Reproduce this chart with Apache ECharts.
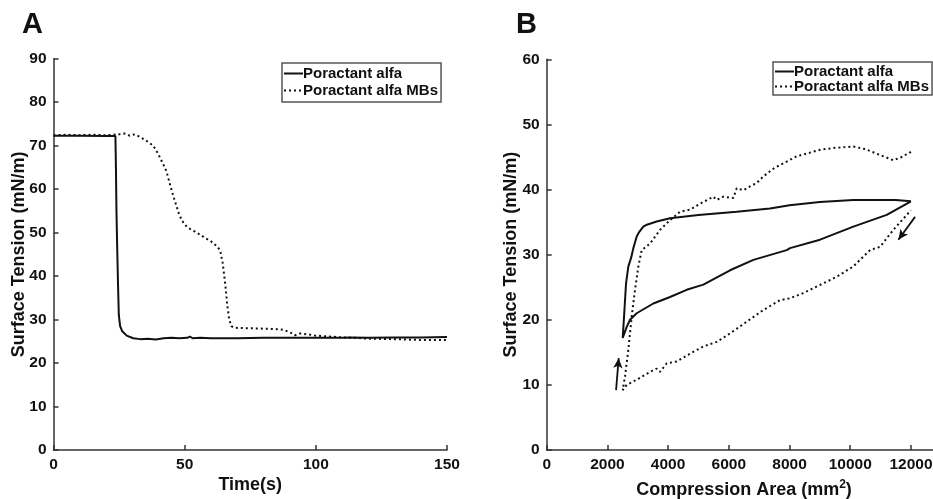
<!DOCTYPE html>
<html>
<head>
<meta charset="utf-8">
<script src="https://cdn.jsdelivr.net/npm/echarts@6/dist/echarts.min.js"></script>
<style>
  html, body { margin: 0; padding: 0; background: #fff; }
  #chart { width: 933px; height: 499px; }
</style>
</head>
<body>
<div id="chart"></div>
<script>
// panel A: surface tension over time (s)
const aSolid = [[0,72.3],[10,72.3],[20,72.2],[23.6,72.2],[23.8,65],[24.0,55],[24.3,46],[24.6,38],[24.9,31],
  [25.4,28.5],[26.2,27.3],[27.9,26.3],[30.4,25.7],[33,25.5],[36,25.6],[39,25.4],[42,25.7],[45,25.8],
  [48,25.7],[51,25.8],[52,26.1],[53,25.7],[56,25.8],[60,25.7],[70,25.7],[80,25.8],[90,25.8],[100,25.8],
  [110,25.8],[113,25.9],[120,25.8],[130,25.9],[140,25.9],[150,26.0]]
const aDotted = [[0,72.4],[5,72.5],[10,72.4],[15,72.5],[20,72.4],[25,72.6],[27,72.8],[29,72.3],[31,72.6],
  [33,72.0],[35,71.3],[38,70],[40,68],[42,65.5],[43,64.2],[44,62],[45,59.8],[46,57.8],[47,55.9],[48,54],
  [49.5,52.3],[51,51.2],[54,50.2],[57,49.1],[60,48],[62,47],[63.5,46],[64.5,43],[65.5,38],[66.3,33],
  [67,30],[67.8,28.5],[69,28.1],[75,28],[80,27.9],[85,27.8],[88,27.6],[89.5,27.2],[91,26.8],[92,26.4],
  [94,26.8],[97,26.6],[100,26.3],[105,26.1],[110,25.9],[115,25.8],[120,25.6],[130,25.5],[140,25.3],[150,25.3]]

// panel B: surface tension vs compression area (mm2)
const bSolid = [[12000,38.2],[11500,38.4],[11000,38.4],[10100,38.4],[9000,38.1],[8000,37.6],[7357,37.1],
  [6260,36.6],[5000,36.1],[4063,35.6],[3624,35.1],[3300,34.6],[3183,34.3],[3050,33.5],[2965,32.8],
  [2855,31],[2780,29.5],[2690,28.2],[2614,25.6],[2548,20.5],[2504,17.2],[2636,18.9],[2745,20],[2965,21],
  [3513,22.5],[4063,23.5],[4612,24.6],[5161,25.4],[6040,27.6],[6809,29.2],[7908,30.7],[8016,31],
  [9005,32.3],[10103,34.3],[11202,36.1],[12000,38.2]]
const bDotted = [[12000,45.8],[11700,45.0],[11420,44.5],[10982,45.3],[10500,46.2],[10103,46.6],[9500,46.4],
  [9005,46.1],[8237,45.1],[7908,44.3],[7500,43.3],[7357,42.8],[7137,42],[6918,41],[6700,40.5],[6479,39.9],
  [6260,40.2],[6150,38.7],[5821,38.9],[5601,38.4],[5491,38.9],[5161,38.1],[4722,36.9],[4393,36.6],
  [4063,35.3],[3733,33.8],[3404,31.7],[3130,30.7],[3020,28.2],[2910,24.6],[2800,20.5],[2690,15.4],
  [2580,11.3],[2504,9.2],[2636,10],[2965,10.8],[3404,12],[3624,12.5],[3733,12],[3954,13.3],[4283,13.6],
  [4722,14.8],[5161,15.9],[5601,16.6],[6040,17.9],[6590,19.7],[7137,21.5],[7687,23],[8016,23.3],
  [8455,24.1],[9114,25.6],[9554,26.6],[10103,28.2],[10653,30.7],[10982,31.2],[11420,33.8],[11860,36.1],[12000,36.8]]
const bArrows = [[[2285,9.2],[2372,14.1]], [[12136,35.8],[11586,32.3]]]

const seriesNames = ['Poractant alfa', 'Poractant alfa MBs']

const FONT = '"Liberation Sans", Arial, sans-serif'
const INK = '#111'

const tickLabel = { color: INK, fontSize: 15.5, fontWeight: 'bold', fontFamily: FONT, margin: 7, formatter: (v) => String(v) }
const titleText = { color: INK, fontSize: 18, fontWeight: 'bold', fontFamily: FONT }

function axisBase(extra) {
  return {
    type: 'value',
    splitLine: { show: false },
    axisLine: { lineStyle: { color: '#333', width: 1.5 } },
    axisTick: { inside: true, length: 5, lineStyle: { color: '#333', width: 1.5 } },
    axisLabel: tickLabel,
    nameTextStyle: titleText,
    nameLocation: 'middle',
    nameMoveOverlap: false,
    ...extra,
  }
}

function legendBox(left, top, gap, padding) {
  return {
    orient: 'vertical', left, top,
    data: seriesNames,
    borderColor: '#555', borderWidth: 1.5, borderRadius: 0,
    padding, itemGap: gap, itemWidth: 19, itemHeight: 12,
    itemStyle: { opacity: 0 },
    textStyle: { color: INK, fontSize: 15, lineHeight: 15, fontWeight: 'bold', fontFamily: FONT, padding: [0, 0, 0, -5] },
    selectedMode: false,
  }
}

const solidStyle = { color: INK, width: 2, type: 'solid' }
const dottedStyle = { color: INK, width: 2, type: [2, 3] }

const chart = echarts.init(document.getElementById('chart'), null, { renderer: 'canvas' })
chart.setOption({
  animation: false,
  backgroundColor: '#fff',
  title: [
    { text: 'A', left: 17, top: 5, textStyle: { fontSize: 29, fontWeight: 'bold', color: INK, fontFamily: FONT } },
    { text: 'B', left: 511, top: 5, textStyle: { fontSize: 29, fontWeight: 'bold', color: INK, fontFamily: FONT } },
  ],
  legend: [legendBox(282, 63, 2, [3, 3, 4, 1]), legendBox(773, 62, 0, [2, 3, 1, 1])],
  grid: [
    { left: 53.5, top: 58.7, right: 486, bottom: 49, outerBoundsMode: 'none' },
    { left: 546.7, top: 59.3, right: -8.3, bottom: 49, outerBoundsMode: 'none' },
  ],
  xAxis: [
    axisBase({ gridIndex: 0, min: 0, max: 150, interval: 50, name: 'Time(s)', nameGap: 26 }),
    axisBase({
      gridIndex: 1, min: 0, max: 13000, interval: 2000, name: 'Compression Area (mm{sup|2})', nameGap: 29,
      axisLabel: { ...tickLabel, showMaxLabel: false },
      nameTextStyle: {
        ...titleText,
        rich: { sup: { fontSize: 12, fontWeight: 'bold', color: INK, fontFamily: FONT, verticalAlign: 'bottom', padding: [0, 0, 10, 0] } },
      },
    }),
  ],
  yAxis: [
    axisBase({ gridIndex: 0, min: 0, max: 90, interval: 10, name: 'Surface Tension (mN/m)', nameGap: 25 }),
    axisBase({ gridIndex: 1, min: 0, max: 60, interval: 10, name: 'Surface Tension (mN/m)', nameGap: 27 }),
  ],
  series: [
    { name: seriesNames[0], type: 'line', xAxisIndex: 0, yAxisIndex: 0, data: aSolid, symbol: 'none', lineStyle: solidStyle, itemStyle: { color: INK } },
    { name: seriesNames[1], type: 'line', xAxisIndex: 0, yAxisIndex: 0, data: aDotted, symbol: 'none', lineStyle: dottedStyle, itemStyle: { color: INK } },
    {
      name: seriesNames[0], type: 'line', xAxisIndex: 1, yAxisIndex: 1, data: bSolid, symbol: 'none', lineStyle: solidStyle, itemStyle: { color: INK },
      markLine: {
        silent: true, symbol: ['none', 'arrow'], symbolSize: [7, 10],
        label: { show: false },
        lineStyle: { color: INK, width: 1.8, type: 'solid' },
        data: bArrows.map(([from, to]) => [{ coord: from }, { coord: to }]),
      },
    },
    { name: seriesNames[1], type: 'line', xAxisIndex: 1, yAxisIndex: 1, data: bDotted, symbol: 'none', lineStyle: dottedStyle, itemStyle: { color: INK } },
  ],
})
</script>
</body>
</html>
